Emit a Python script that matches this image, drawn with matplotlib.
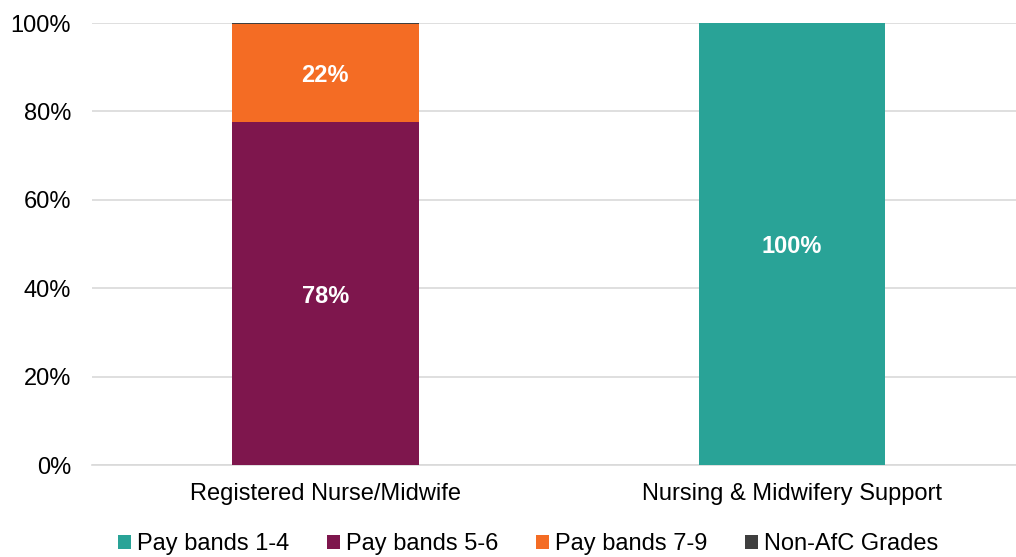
import matplotlib.pyplot as plt
from matplotlib.ticker import PercentFormatter

plt.rcParams['font.family'] = ['Liberation Sans', 'DejaVu Sans']

categories = ['Registered Nurse/Midwife', 'Nursing & Midwifery Support']
series = ['Pay bands 1-4', 'Pay bands 5-6', 'Pay bands 7-9', 'Non-AfC Grades']
band_1_4 = [0.0, 100.0]
band_5_6 = [77.6, 0.0]
band_7_9 = [22.1, 0.0]
non_afc = [0.3, 0.0]
colors = ['#29A397', '#7E164D', '#F46C24', '#3F3F3F']

fig = plt.figure(figsize=(10.16, 5.57), dpi=100)
ax = fig.add_axes([92 / 1016, 1 - 465 / 557, 924 / 1016, 442 / 557])

x = list(range(len(categories)))
bottom = [0.0] * len(categories)
for name, vals, col in zip(series, [band_1_4, band_5_6, band_7_9, non_afc], colors):
    bars = ax.bar(x, vals, 0.4, bottom=bottom, color=col, label=name, zorder=3)
    for b, v, btm in zip(bars, vals, bottom):
        if v >= 5:
            ax.text(b.get_x() + b.get_width() / 2, btm + v / 2, f'{v:.0f}%',
                    ha='center', va='center_baseline', color='white',
                    fontsize=17, fontweight='bold', zorder=4)
    bottom = [b + v for b, v in zip(bottom, vals)]

ax.set_xlim(-0.5, 1.48)
ax.set_ylim(0, 100)
ax.set_yticks(range(0, 101, 20))
ax.yaxis.set_major_formatter(PercentFormatter(decimals=0))
ax.set_xticks(x)
ax.set_xticklabels(categories)
ax.tick_params(axis='both', length=0, labelsize=17, colors='black')
ax.tick_params(axis='x', pad=13)
ax.tick_params(axis='y', pad=15)
ax.grid(axis='y', color='#D9D9D9', linewidth=1.2, zorder=0)
for s in ['top', 'right', 'left']:
    ax.spines[s].set_visible(False)
ax.spines['bottom'].set_color('#D9D9D9')
ax.spines['bottom'].set_linewidth(1.2)

ax.legend(loc='lower center', bbox_to_anchor=(0.5 - 26 / 924, -0.252), ncol=4,
          frameon=False, fontsize=17, handlelength=0.55, handleheight=0.55,
          handletextpad=0.25, columnspacing=1.6)

fig.savefig('out.png', dpi=100)
